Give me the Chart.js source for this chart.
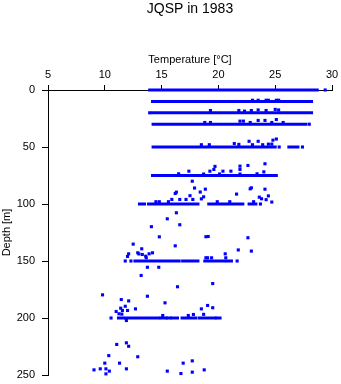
<!DOCTYPE html>
<html>
<head>
<meta charset="utf-8">
<title>JQSP in 1983</title>
<script src="https://cdn.jsdelivr.net/npm/chart.js@4.4.1/dist/chart.umd.min.js"></script>
<style>
	html, body { margin: 0; padding: 0; background: #fff; }
	#canvas-profile { display: block; }
</style>
</head>
<body>
<canvas id="canvas-profile" width="341" height="384"></canvas>
<script>
// Standard sampling depths, each drawn as dense rows of measurements
var bandDepths = [0, 10, 20, 30, 50, 75, 100, 150, 200];

// Temperature runs [from, to] covered by the dense rows at each depth
var bandRuns = [
	[[13.95, 28.7]],
	[[14.2, 19.9], [20.05, 28.2]],
	[[14.2, 28.2]],
	[[14.25, 27.7]],
	[[14.25, 25.0], [26.2, 27.0]],
	[[14.2, 25.1]],
	[[13.05, 13.5], [13.85, 18.2], [19.15, 22.15], [22.7, 23.3]],
	[[12.65, 16.55], [16.85, 17.55], [17.8, 18.2], [18.8, 20.55], [20.75, 21.15]],
	[[11.2, 11.65], [11.85, 14.75], [14.95, 15.4], [15.5, 15.75], [15.9, 16.4], [16.8, 18.0], [18.3, 19.7], [19.85, 20.15]]
];

// Single measurements: [temperature, depth]
var scatterPoints = [
	[29.4, 0],
	[23.0, 9], [23.5, 9], [24.2, 9], [24.4, 9], [25.1, 9], [25.3, 9],
	[13.95, 20], [19.3, 18], [21.8, 18], [22.3, 18.5], [22.9, 18], [23.5, 17.5], [24.2, 18], [25.0, 17], [25.3, 17.5],
	[18.8, 28.5], [19.3, 28.5], [21.9, 27.3], [22.2, 27.3], [22.8, 28.5], [23.5, 26.7], [24.1, 26.7], [24.7, 28.5], [25.1, 25.9], [25.7, 28.5], [28.0, 30],
	[18.5, 48], [19.2, 48], [21.4, 47], [21.8, 47.7], [22.7, 45], [23.5, 45], [23.0, 48], [23.9, 48], [24.4, 47.5], [24.7, 47.5], [24.8, 44], [25.1, 43], [25.35, 50], [27.4, 50],
	[16.5, 73.5], [17.4, 71.2], [18.7, 73.7], [19.25, 71.2], [19.6, 69.7], [19.7, 67], [20.1, 73.7], [20.4, 71.2], [21.1, 71.2], [21.9, 69.7], [21.9, 66.8], [22.6, 66.2], [24.1, 64.7], [24.0, 71.8], [21.9, 73.7], [23.4, 73.5],
	[17.7, 80], [17.9, 86], [18.4, 89.5], [18.85, 87], [16.3, 89.6], [16.2, 90.8], [17.5, 92.7], [18.7, 93.7], [21.6, 91.3], [22.8, 86.7], [22.9, 85.8], [24.1, 87], [23.6, 94], [23.8, 95.4], [24.2, 96.2], [24.4, 92.9], [24.7, 98.3], [23.7, 100],
	[14.5, 98], [14.8, 98], [15.6, 98], [15.9, 96], [16.6, 96], [17.15, 96], [17.75, 96], [18.5, 95.5], [19.9, 98], [21.0, 98], [23.1, 98],
	[16.3, 107.7], [15.5, 113], [16.6, 118.2], [14.1, 119.9], [14.8, 128.8], [18.9, 128.7], [19.1, 128.5], [22.6, 129.6],
	[12.5, 135.2], [13.25, 139.3], [16.2, 136.7], [21.75, 140.3], [22.9, 141.3],
	[12.1, 143.7], [12.9, 142.8], [13.0, 143.8], [13.3, 144.3], [13.9, 143.7], [14.2, 142.8], [13.6, 145.8], [13.65, 147.2], [12.0, 146],
	[20.6, 143.7], [20.65, 147.2], [18.9, 147.2], [19.05, 147.2], [19.4, 147.2], [11.8, 150], [12.3, 150], [21.65, 150],
	[13.75, 155.5], [14.75, 155.5], [13.2, 162.7], [16.4, 172.6], [19.5, 169.8],
	[9.8, 179.7], [13.75, 180.9], [11.45, 183.8], [12.1, 185], [15.3, 186.7], [11.8, 189.7], [11.4, 191.4], [11.55, 193.4], [11.0, 194.3], [12.0, 193.4], [12.7, 192], [11.25, 196.3], [11.5, 196.6],
	[19.05, 189], [18.5, 192], [19.5, 191], [17.8, 196.9], [18.7, 196.8], [15.1, 197.8], [17.35, 197.8], [10.55, 200], [11.9, 202.2],
	[11.05, 223.2], [11.9, 221.8], [12.1, 224.8], [10.35, 233], [12.9, 234], [10.0, 239.6], [11.3, 239.6],
	[9.05, 245.5], [9.6, 244.6], [10.1, 244.6], [10.4, 246.6], [10.1, 249], [11.9, 244.6],
	[17.7, 237.6], [16.9, 239.6], [15.5, 246.6], [16.7, 248.7], [17.7, 247.5], [18.75, 245.5]
];

// Axis ticks
var tempTicks = [5, 10, 15, 20, 25, 30];
var depthTicks = [0, 50, 100, 150, 200, 250];

var blue = '#0000ff';
var fontFamily = "'Liberation Sans', Helvetica, Arial, sans-serif";

var datasets = [];

// One short line per run of dense samples.
bandDepths.forEach(function (depth, i) {
	bandRuns[i].forEach(function (run) {
		datasets.push({
			data: [{ x: run[0], y: depth }, { x: run[1], y: depth }],
			showLine: true,
			clip: false,
			borderColor: blue,
			borderWidth: 3,
			borderCapStyle: 'square',
			pointRadius: 0
		});
	});
});

datasets.push({
	data: scatterPoints.map(function (p) { return { x: p[0], y: p[1] }; }),
	showLine: false,
	clip: false,
	pointStyle: 'rect',
	pointRadius: 2.2,
	pointBorderWidth: 0,
	backgroundColor: blue,
	borderColor: blue
});

var ctx = document.getElementById('canvas-profile').getContext('2d');
var chart = new Chart(ctx, {
	type: 'scatter',
	data: { datasets: datasets },
	options: {
		responsive: false,
		animation: false,
		devicePixelRatio: 1,
		layout: { padding: { top: 0, left: 0, right: 9, bottom: 9 } },
		plugins: {
			legend: { display: false },
			tooltip: { enabled: false },
			title: {
				display: true,
				text: 'JQSP in 1983',
				fullSize: false,
				color: '#000',
				font: { family: fontFamily, size: 14, weight: 'normal' },
				padding: { top: 1, bottom: 0 }
			}
		},
		scales: {
			x: {
				type: 'linear',
				position: 'top',
				min: tempTicks[0],
				max: tempTicks[tempTicks.length - 1],
				afterBuildTicks: function (scale) {
					scale.ticks = tempTicks.map(function (v) { return { value: v }; });
				},
				afterFit: function (scale) {
					scale.height = 72.2;
					scale.paddingLeft = 0;
					scale.paddingRight = 0;
				},
				ticks: { color: '#000', padding: 3, font: { family: fontFamily, size: 11 } },
				grid: { drawOnChartArea: false, drawTicks: true, tickLength: 5, color: '#000' },
				border: { color: '#000', width: 1 },
				title: {
					display: true,
					text: 'Temperature [°C]',
					color: '#000',
					font: { family: fontFamily, size: 11 },
					padding: { top: 36, bottom: 0 }
				}
			},
			y: {
				type: 'linear',
				position: 'left',
				reverse: true,
				min: depthTicks[0],
				max: depthTicks[depthTicks.length - 1],
				afterBuildTicks: function (scale) {
					scale.ticks = depthTicks.map(function (v) { return { value: v }; });
				},
				afterFit: function (scale) {
					scale.width = 48;
					scale.paddingTop = 0;
					scale.paddingBottom = 0;
				},
				ticks: { color: '#000', padding: 7, font: { family: fontFamily, size: 11 } },
				grid: { drawOnChartArea: false, drawTicks: true, tickLength: 6, color: '#000' },
				border: { color: '#000', width: 1 },
				title: {
					display: true,
					text: 'Depth [m]',
					color: '#000',
					font: { family: fontFamily, size: 11 },
					padding: { top: 0, bottom: 0 }
				}
			}
		}
	}
});
</script>
</body>
</html>
